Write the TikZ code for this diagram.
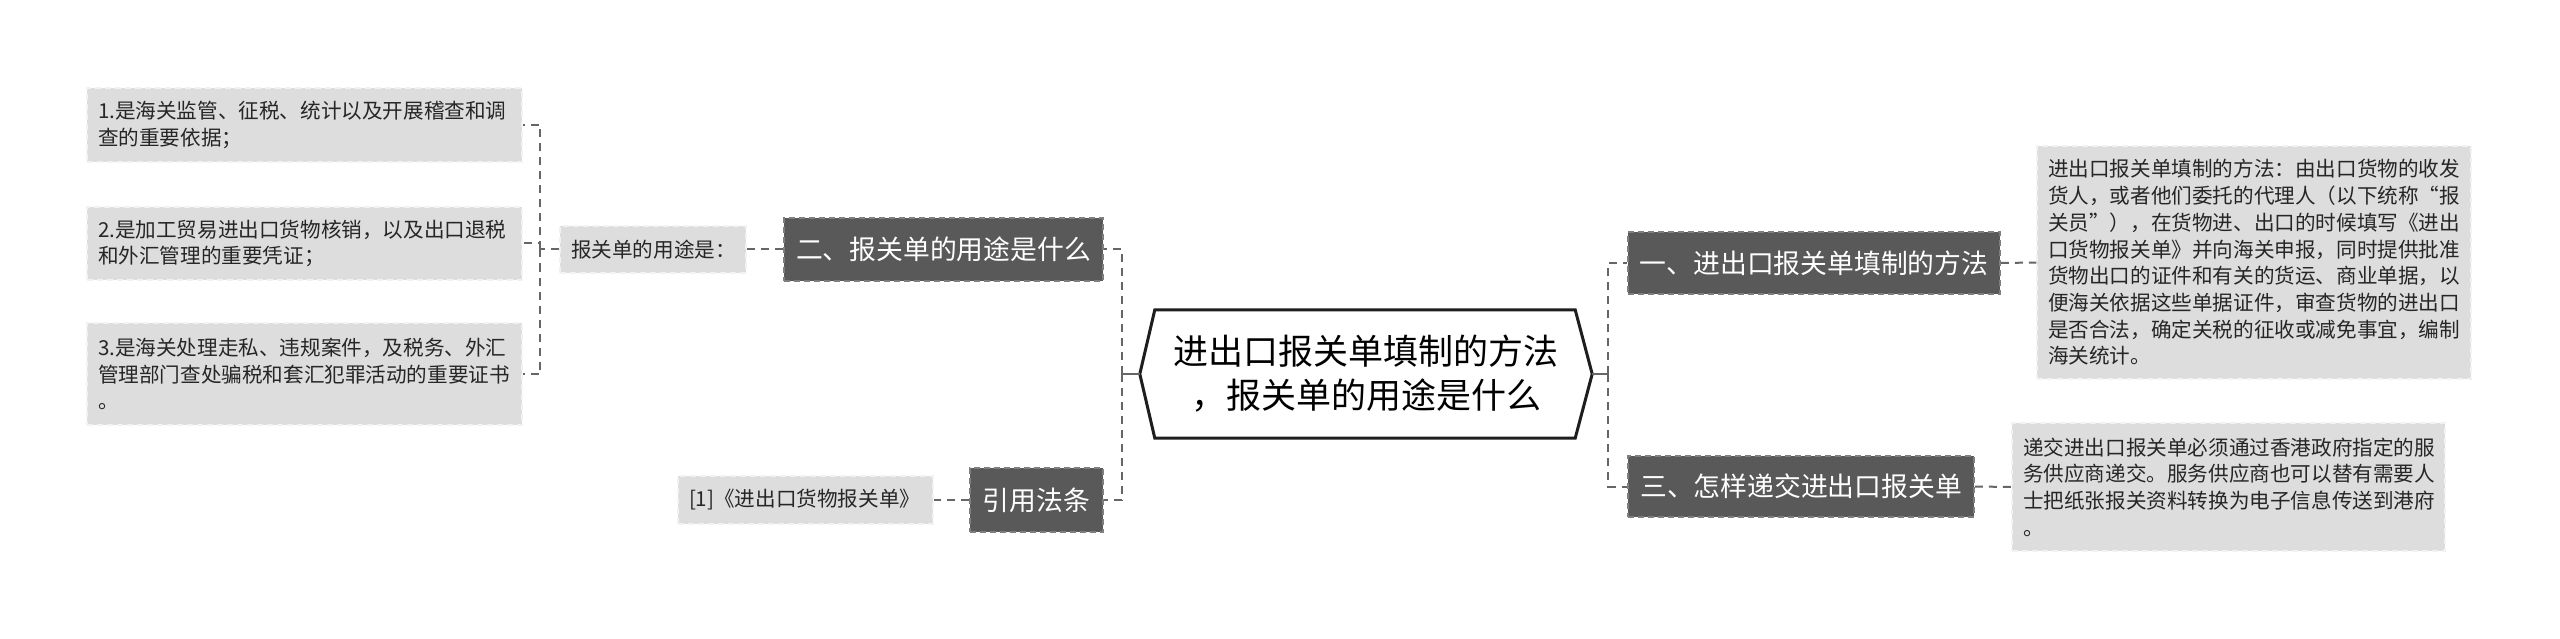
\documentclass[tikz,border=0pt]{standalone}
\usepackage{fontspec}
\setmainfont{Noto Sans CJK SC}
\definecolor{dfill}{HTML}{595959}
\definecolor{dline}{HTML}{7F7F7F}
\definecolor{lfill}{HTML}{DDDDDD}
\definecolor{lline}{HTML}{F2F2F2}
\definecolor{conn}{HTML}{666666}
\definecolor{hexline}{HTML}{1E1E1E}
\tikzset{
 lbox/.style={fill=lfill, draw=lline, line width=1.5pt, dash pattern=on 6pt off 4pt, inner xsep=11pt, inner ysep=0pt, align=left, font=\fontsize{20.6}{26.7}\selectfont, text=black!85},
 dbox/.style={fill=dfill, draw=dline, line width=1.5pt, dash pattern=on 6pt off 4pt, inner sep=0pt, text=white, font=\fontsize{26.8}{32}\selectfont},
 link/.style={draw=conn, line width=2pt, dash pattern=on 8pt off 6pt},
 solidlink/.style={draw=conn, line width=2.5pt},
}
\begin{document}
\begin{tikzpicture}[x=1pt,y=-1pt]
\useasboundingbox (0,0) rectangle (2560,639);
\fill[white] (0,0) rectangle (2560,639);

% center
\node[minimum width=452pt, minimum height=128pt, inner sep=0pt, align=center, font=\fontsize{35}{44}\selectfont] (hex) at (1366,374) {进出口报关单填制的方法\\，报关单的用途是什么};
\draw[draw=hexline, line width=3pt, line join=miter] (hex.west) -- ([xshift=15pt]hex.north west) -- ([xshift=-17pt]hex.north east) -- (hex.east) -- ([xshift=-17pt]hex.south east) -- ([xshift=15pt]hex.south west) -- cycle;

% left branches
\node[dbox, minimum width=319pt, minimum height=63pt] (b2) at (943.5,249.5) {二、报关单的用途是什么};
\node[dbox, minimum width=133pt, minimum height=64pt] (b4) at (1036.5,500) {引用法条};
\node[lbox, minimum width=186pt, minimum height=47pt, text width=164pt] (use) at (653,249.5) {报关单的用途是：};
\node[lbox, minimum width=255pt, minimum height=48pt, text width=233pt] (ref) at (805.5,500) {[1]《进出口货物报关单》};
\node[lbox, minimum width=435pt, minimum height=74pt, text width=413pt] (n1) at (304.5,125) {1.是海关监管、征税、统计以及开展稽查和调\\查的重要依据；};
\node[lbox, minimum width=435pt, minimum height=73pt, text width=413pt] (n2) at (304.5,243.5) {2.是加工贸易进出口货物核销，以及出口退税\\和外汇管理的重要凭证；};
\node[lbox, minimum width=435pt, minimum height=102pt, text width=413pt] (n3) at (304.5,374) {3.是海关处理走私、违规案件，及税务、外汇\\管理部门查处骗税和套汇犯罪活动的重要证书\\。};

% right branches
\node[dbox, minimum width=372pt, minimum height=62pt] (b1) at (1814,263) {一、进出口报关单填制的方法};
\node[dbox, minimum width=346pt, minimum height=61pt] (b3) at (1801,486.5) {三、怎样递交进出口报关单};
\node[lbox, minimum width=434pt, minimum height=233pt, text width=412pt] (t1) at (2254,262.5) {进出口报关单填制的方法：由出口货物的收发\\货人，或者他们委托的代理人（以下统称“报\\关员”），在货物进、出口的时候填写《进出\\口货物报关单》并向海关申报，同时提供批准\\货物出口的证件和有关的货运、商业单据，以\\便海关依据这些单据证件，审查货物的进出口\\是否合法，确定关税的征收或减免事宜，编制\\海关统计。};
\node[lbox, minimum width=433pt, minimum height=128pt, text width=411pt] (t3) at (2228.5,487) {递交进出口报关单必须通过香港政府指定的服\\务供应商递交。服务供应商也可以替有需要人\\士把纸张报关资料转换为电子信息传送到港府\\。};

% connectors
\coordinate (cl) at (1122,374);
\coordinate (cr) at (1608,374);
\coordinate (jl) at (540,249.5);
\draw[solidlink] (hex.west) -- (cl);
\draw[solidlink] ([yshift=-8pt]cl) -- ([yshift=8pt]cl);
\draw[link] (cl) |- (b2.east);
\draw[link] (cl) |- (b4.east);
\draw[solidlink] (hex.east) -- (cr);
\draw[solidlink] ([yshift=-8pt]cr) -- ([yshift=8pt]cr);
\draw[link] (cr) |- (b1.west);
\draw[link] (cr) |- (b3.west);
\draw[link] (b2.west) -- (use.east);
\draw[link] (use.west) -- (jl);
\draw[link] (jl) |- (n1.east);
\draw[link] (jl) |- (n2.east);
\draw[link] (jl) |- (n3.east);
\draw[link] (b4.west) -- (ref.east);
\draw[link] (b1.east) -- (t1.west);
\draw[link] (b3.east) -- (t3.west);
\end{tikzpicture}
\end{document}
